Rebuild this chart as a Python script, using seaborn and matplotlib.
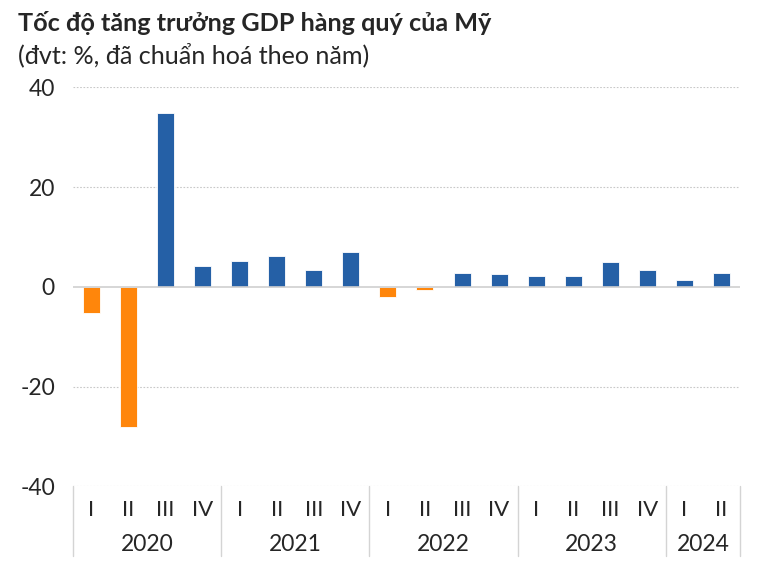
import numpy as np
import pandas as pd
import matplotlib.pyplot as plt
import seaborn as sns

# Data: US quarterly GDP growth, annualised (%)
years = ['2020', '2021', '2022', '2023', '2024']
quarters_per_year = [4, 4, 4, 4, 2]
quarter_names = ['I', 'II', 'III', 'IV']
growth = [-5.3, -28.0, 34.8, 4.2,
          5.2, 6.2, 3.3, 7.0,
          -2.0, -0.6, 2.7, 2.6,
          2.2, 2.1, 4.9, 3.4,
          1.4, 2.8]

quarter_labels = [q for n in quarters_per_year for q in quarter_names[:n]]
df = pd.DataFrame({
    'pos': np.arange(len(growth)),
    'growth': growth,
    'sign': ['neg' if v < 0 else 'pos' for v in growth],
})

sns.set_style('white')
plt.rcParams['font.family'] = ['Lato', 'DejaVu Sans']

fig = plt.figure(figsize=(7.63, 5.67), dpi=100)
ax = fig.add_axes([0.0957, 0.142, 0.874, 0.704])

sns.barplot(data=df, x='pos', y='growth', hue='sign',
            palette={'pos': '#2560A6', 'neg': '#FF860B'}, saturation=1,
            width=0.46, dodge=False, legend=False, ax=ax,
            edgecolor='white', linewidth=0.6)

ax.set_ylim(-40, 40)
ax.set_xlim(-0.5, len(growth) - 0.5)
ax.set_yticks([-40, -20, 0, 20, 40])
ax.set_yticklabels(['-40', '-20', '0', '20', '40'], fontsize=16.5)
ax.tick_params(axis='y', length=0, pad=13)

# gridlines
for v in [-40, -20, 20, 40]:
    ax.axhline(v, color='#c8c8c8', linestyle=(0, (1.5, 1.5)), linewidth=0.8, zorder=0)
ax.axhline(0, color='#cfcfcf', linewidth=1.2, zorder=1)

for s in ax.spines.values():
    s.set_visible(False)

ax.set_xlabel('')
ax.set_ylabel('')
ax.set_xticks(df['pos'])
ax.set_xticklabels(quarter_labels, fontsize=16)
ax.tick_params(axis='x', length=0, pad=10)

# year groups below the axis
ax_h = 0.704 * 567
trans = ax.get_xaxis_transform()
bounds = np.concatenate([[0], np.cumsum(quarters_per_year)]) - 0.5
for b in bounds:
    ax.plot([b, b], [0, -70 / ax_h], transform=trans, color='#d4d4d4',
            linewidth=1, clip_on=False)
for i, yr in enumerate(years):
    mid = (bounds[i] + bounds[i + 1]) / 2
    ax.text(mid, -58 / ax_h, yr, transform=trans, ha='center', va='center',
            fontsize=16.5)

fig.text(18 / 763, 1 - 23 / 567, 'Tốc độ tăng trưởng GDP hàng quý của Mỹ',
         fontsize=18.2, fontweight='bold', ha='left', va='center')
fig.text(18 / 763, 1 - 55 / 567, '(đvt: %, đã chuẩn hoá theo năm)',
         fontsize=18.1, ha='left', va='center')

fig.savefig('out.png', dpi=100)
